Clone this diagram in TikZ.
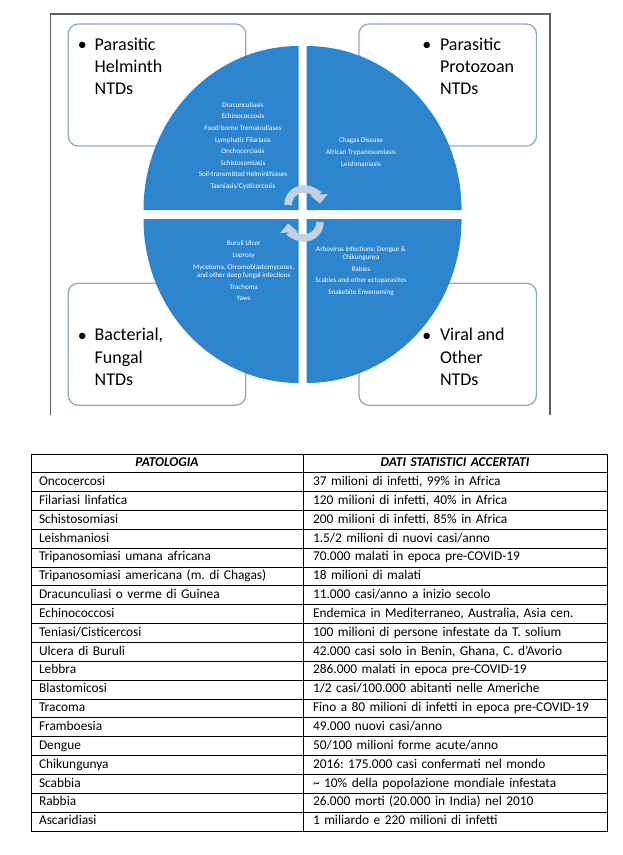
\documentclass[tikz,border=0pt]{standalone}
\usepackage{fontspec}
\setmainfont{Carlito}
\usetikzlibrary{arrows.meta,positioning}
\frenchspacing

\definecolor{ntdblue}{RGB}{45,133,205}
\definecolor{boxline}{RGB}{145,170,200}
\definecolor{cyclegray}{RGB}{196,209,227}
\definecolor{framegray}{RGB}{95,95,95}

\begin{document}
\begin{tikzpicture}[x=1pt,y=-1pt,node distance=18.85pt,
  group/.style={draw=boxline,line width=1.3pt,rounded corners=10pt,fill=white,minimum width=177.5pt,minimum height=122pt},
  title/.style={anchor=base west,align=left,inner sep=0pt,font=\fontsize{18}{22.4}\selectfont},
  dot/.style={anchor=base,inner sep=0pt,font=\fontsize{18}{22.4}\selectfont},
  quad/.style={fill=ntdblue},
  list/.style={align=center,text=white,inner sep=0pt,font=\fontsize{7.1}{11.6}\selectfont},
  cyc/.style={draw=cyclegray,line width=7.5pt,-{Triangle[width=17pt,length=9pt]}},
  cellL/.style={draw,line width=0.9pt,minimum height=18.85pt,inner ysep=0pt,inner xsep=8pt,text width=256pt,align=left,font=\fontsize{13.4}{16}\selectfont,execute at begin node=\strut},
  cellR/.style={cellL,inner xsep=10pt,text width=284pt,node distance=288pt},
  headL/.style={cellL,align=center,font=\fontsize{13.4}{16}\selectfont\bfseries\itshape},
  headR/.style={cellR,align=center,font=\fontsize{13.4}{16}\selectfont\bfseries\itshape}]

  \useasboundingbox (0,0) rectangle (623,855);

  % frame round the diagram
  \draw[framegray,line width=1.3pt] (50.7,415) -- (50.7,14) -- (550,14) -- (550,415);

  \node[group]	(HelmBox)	at (157,85)	{};
  \node[group]	(ProtoBox)	at (447.7,85)	{};
  \node[group]	(BactBox)	at (157,344.2)	{};
  \node[group]	(ViralBox)	at (447.7,344.2)	{};

  % the four quarters of the ellipse
  \coordinate (qTL) at (298.5,210);
  \coordinate (qTR) at (306.6,210);
  \coordinate (qBL) at (298.5,219);
  \coordinate (qBR) at (306.6,219);
  \fill[quad] (qTL) -- ++(-155,0) arc[start angle=180,end angle=90,x radius=155pt,y radius=164pt] -- cycle;
  \fill[quad] (qTR) -- ++(0,-164) arc[start angle=90,end angle=0,x radius=155pt,y radius=164pt] -- cycle;
  \fill[quad] (qBL) -- ++(-155,0) arc[start angle=180,end angle=270,x radius=155pt,y radius=164pt] -- cycle;
  \fill[quad] (qBR) -- ++(155,0) arc[start angle=0,end angle=-90,x radius=155pt,y radius=164pt] -- cycle;

  \coordinate (cycTop) at (304,205);
  \coordinate (cycBot) at (304,222);
  \draw[cyc] (cycTop) ++(180:16pt) arc[start angle=180,end angle=5,radius=16pt];
  \draw[cyc] (cycBot) ++(0:16pt) arc[start angle=0,end angle=-175,radius=16pt];

  \node[list]	(HelmList)	at (243,146)	{Dracunculiasis\\Echinococcosis\\Food-borne Trematodiases\\Lymphatic Filariasis\\Onchocerciasis\\Schistosomiasis\\Soil-transmitted Helminthiases\\Taeniasis/Cysticercosis};
  \node[list]	(ProtoList)	at (361,152)	{Chagas Disease\\African Trypanosomiasis\\Leishmaniasis};
  \node[list]	(BactList)	at (243.7,271)	{Buruli Ulcer\\Leprosy\\Mycetoma, Chromoblastomycoses,\\[-3pt]and other deep fungal infections\\Trachoma\\Yaws};
  \node[list]	(ViralList)	at (361,271)	{Arbovirus infections: Dengue \&\\[-3pt]Chikungunya\\Rabies\\Scabies and other ectoparasites\\Snakebite Envenoming};

  % bullets sit on the first line, titles are anchored on the last one
  \node[dot]	(HelmDot)	at (82.3,50)	{•};
  \node[title]	(Helm)		at (94.5,94.8)	{Parasitic\\Helminth\\NTDs};
  \node[dot]	(ProtoDot)	at (426.8,50)	{•};
  \node[title]	(Proto)		at (439.8,94.8)	{Parasitic\\Protozoan\\NTDs};
  \node[dot]	(BactDot)	at (82.3,341.2)	{•};
  \node[title]	(Bact)		at (94.5,385.6)	{Bacterial,\\Fungal\\NTDs};
  \node[dot]	(ViralDot)	at (426.8,341.2)	{•};
  \node[title]	(Viral)		at (439.8,385.6)	{Viral and\\Other\\NTDs};

  % table
  \node[headL]	(PatHead)	at (167,463.4)	{PATOLOGIA};
  \node[headR]	(DatHead)	[right of=PatHead]	{DATI STATISTICI ACCERTATI};
  \node[cellL]	(Onco)		[below of=PatHead]	{Oncocercosi};
  \node[cellR]	(OncoD)		[right of=Onco]		{37 milioni di infetti, 99\% in Africa};
  \node[cellL]	(Filar)		[below of=Onco]		{Filariasi linfatica};
  \node[cellR]	(FilarD)	[right of=Filar]	{120 milioni di infetti, 40\% in Africa};
  \node[cellL]	(Schisto)	[below of=Filar]	{Schistosomiasi};
  \node[cellR]	(SchistoD)	[right of=Schisto]	{200 milioni di infetti, 85\% in Africa};
  \node[cellL]	(Leish)		[below of=Schisto]	{Leishmaniosi};
  \node[cellR]	(LeishD)	[right of=Leish]	{1.5/2 milioni di nuovi casi/anno};
  \node[cellL]	(TripAf)	[below of=Leish]	{Tripanosomiasi umana africana};
  \node[cellR]	(TripAfD)	[right of=TripAf]	{70.000 malati in epoca pre-COVID-19};
  \node[cellL]	(TripAm)	[below of=TripAf]	{Tripanosomiasi americana (m. di Chagas)};
  \node[cellR]	(TripAmD)	[right of=TripAm]	{18 milioni di malati};
  \node[cellL]	(Dracu)		[below of=TripAm]	{Dracunculiasi o verme di Guinea};
  \node[cellR]	(DracuD)	[right of=Dracu]	{11.000 casi/anno a inizio secolo};
  \node[cellL]	(Echino)	[below of=Dracu]	{Echinococcosi};
  \node[cellR]	(EchinoD)	[right of=Echino]	{Endemica in Mediterraneo, Australia, Asia cen.};
  \node[cellL]	(Tenia)		[below of=Echino]	{Teniasi/Cisticercosi};
  \node[cellR]	(TeniaD)	[right of=Tenia]	{100 milioni di persone infestate da T. solium};
  \node[cellL]	(Buruli)	[below of=Tenia]	{Ulcera di Buruli};
  \node[cellR]	(BuruliD)	[right of=Buruli]	{42.000 casi solo in Benin, Ghana, C. d’Avorio};
  \node[cellL]	(Lebbra)	[below of=Buruli]	{Lebbra};
  \node[cellR]	(LebbraD)	[right of=Lebbra]	{286.000 malati in epoca pre-COVID-19};
  \node[cellL]	(Blasto)	[below of=Lebbra]	{Blastomicosi};
  \node[cellR]	(BlastoD)	[right of=Blasto]	{1/2 casi/100.000 abitanti nelle Americhe};
  \node[cellL]	(Tracoma)	[below of=Blasto]	{Tracoma};
  \node[cellR]	(TracomaD)	[right of=Tracoma]	{Fino a 80 milioni di infetti in epoca pre-COVID-19};
  \node[cellL]	(Framb)		[below of=Tracoma]	{Framboesia};
  \node[cellR]	(FrambD)	[right of=Framb]	{49.000 nuovi casi/anno};
  \node[cellL]	(Dengue)	[below of=Framb]	{Dengue};
  \node[cellR]	(DengueD)	[right of=Dengue]	{50/100 milioni forme acute/anno};
  \node[cellL]	(Chik)		[below of=Dengue]	{Chikungunya};
  \node[cellR]	(ChikD)		[right of=Chik]		{2016: 175.000 casi confermati nel mondo};
  \node[cellL]	(Scabbia)	[below of=Chik]		{Scabbia};
  \node[cellR]	(ScabbiaD)	[right of=Scabbia]	{\textasciitilde{} 10\% della popolazione mondiale infestata};
  \node[cellL]	(Rabbia)	[below of=Scabbia]	{Rabbia};
  \node[cellR]	(RabbiaD)	[right of=Rabbia]	{26.000 morti (20.000 in India) nel 2010};
  \node[cellL]	(Ascar)		[below of=Rabbia]	{Ascaridiasi};
  \node[cellR]	(AscarD)	[right of=Ascar]	{1 miliardo e 220 milioni di infetti};

\end{tikzpicture}
\end{document}
